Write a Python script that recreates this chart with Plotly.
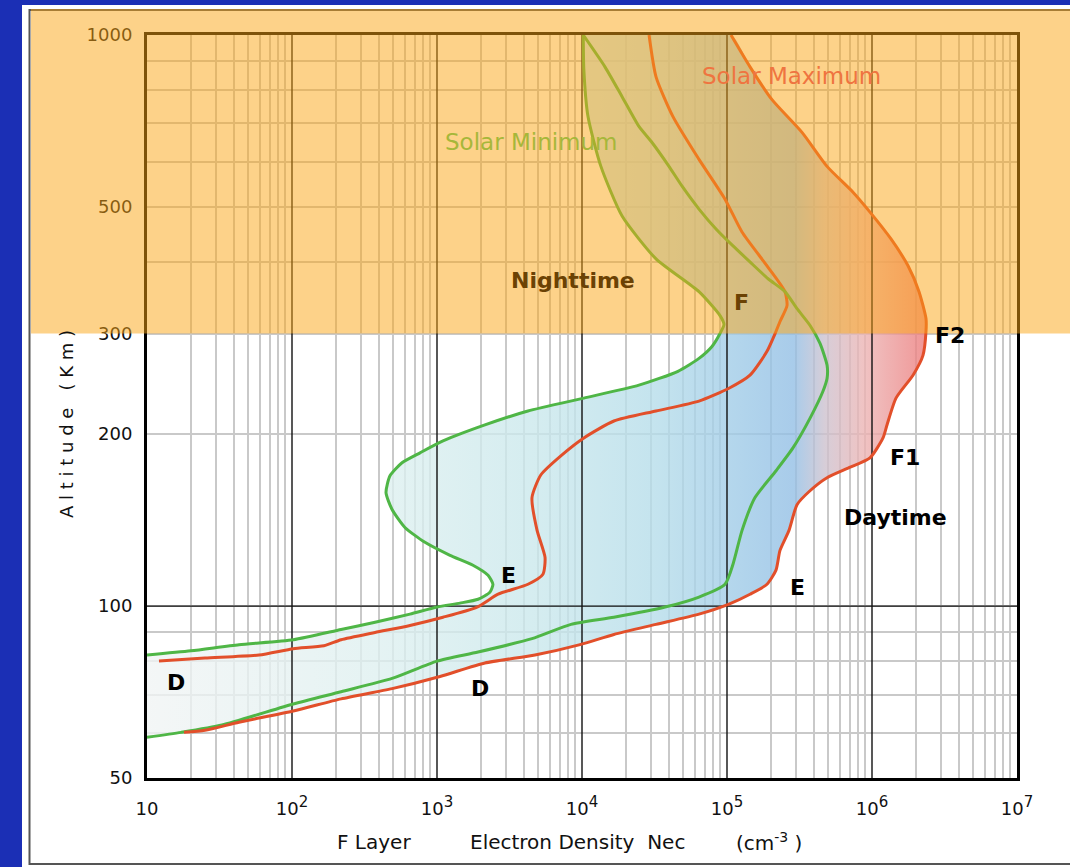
import math
import plotly.graph_objects as go

# ---- Electron density profiles (density in cm^-3, altitude in km) ----
# Nighttime, solar minimum
night_min_density = [10, 20.1, 43.1, 102, 218, 374, 651, 1000, 1440, 1920, 2320, 2430,
                     2250, 1770, 1230, 826, 601, 490, 445, 474, 574, 764, 1100, 2140,
                     4240, 10300, 24700, 45900, 64100, 78800, 89500, 95300, 89500,
                     64100, 32400, 18900, 13500, 11000, 10300, 10200]
night_min_altitude = [82.1, 83.5, 85.6, 87.3, 91.0, 93.7, 96.8, 99.6, 101.2, 102.8, 105.8, 109.2,
                      113.2, 117.9, 122.7, 129.3, 137.3, 147.6, 158.0, 169.1, 178.2, 185.5, 194.6, 207.6,
                      219.6, 231.3, 243.7, 257.7, 271.5, 284.9, 300.2, 311.2, 322.6,
                      355.3, 405.5, 481.9, 588.8, 719.6, 868.9, 1000]

# Nighttime, solar maximum
night_max_density = [12.1, 25.1, 59.2, 102, 166, 218, 374, 651, 1100, 1890, 2640, 4240,
                     5380, 5560, 4900, 4520, 5210, 7280, 10300, 16600, 32400, 64100,
                     103200, 144100, 188700, 217700, 232000, 259300, 251200, 188700,
                     126900, 96900, 64100, 42400, 32400, 29000]
night_max_altitude = [80.1, 81.1, 82.1, 84.2, 85.2, 87.3, 89.9, 92.5, 95.6, 99.6, 104.9, 109.2,
                      113.7, 121.7, 135.7, 154.9, 169.8, 184.0, 197.0, 210.9, 219.6, 228.5,
                      240.7, 253.7, 279.3, 302.6, 315.0, 335.8, 355.3, 394.3,
                      451.9, 515.9, 605.6, 719.6, 844.9, 1000]

# Daytime, solar minimum
day_min_density = [10200, 14400, 18900, 24700, 30400, 39800, 49000, 64100, 84000, 110000,
                   144000, 192000, 251000, 304000, 374000, 438000, 490000, 490000, 459000,
                   374000, 285000, 218000, 156000, 127000, 110000, 96900, 64100, 37400,
                   16600, 8400, 4520, 1920, 1000, 490, 218, 102, 32.9, 17.2, 10]
day_min_altitude = [1000, 879.5, 779.8, 691.6, 648.2, 588.8, 543.5, 495.7, 457.4, 427.2,
                    400.6, 374.3, 355.3, 331.8, 310.0, 288.4, 264.0, 250.6, 237.8,
                    213.4, 189.2, 172.6, 154.9, 135.7, 118.4, 109.2, 103.7, 99.6,
                    95.6, 92.9, 87.7, 83.1, 80.1, 74.7, 70.8, 67.4, 61.9, 60.1, 58.9]

# Daytime, solar maximum
day_max_density = [106600, 144100, 204300, 329100, 489500, 739600, 968700, 1352000, 1772000,
                   2110000, 2357000, 2357000, 2247000, 1918000, 1464000, 1269000, 1191000,
                   968700, 694000, 489500, 373700, 303900, 267700, 232000, 217700, 188700,
                   144100, 103200, 64100, 32400, 16600, 9690, 4740, 2140, 1050, 490, 218,
                   102, 43.1, 25.1, 18.0]
day_max_altitude = [1000, 879.5, 770.4, 675.2, 588.8, 530.5, 489.6, 439.4, 394.3,
                    355.3, 318.8, 302.6, 274.8, 253.7, 231.3, 207.6, 197.0,
                    181.8, 174.7, 167.8, 159.2, 150.5, 135.7, 125.2, 115.6, 109.2,
                    104.9, 100.8, 96.8, 92.9, 89.2, 85.6, 82.1, 79.5, 75.3, 71.7, 68.8,
                    65.5, 62.6, 60.6, 60.1]

# ---- Axis ticks ----
x_tick_values = [10, 1e2, 1e3, 1e4, 1e5, 1e6, 1e7]
x_tick_exponents = [None, 2, 3, 4, 5, 6, 7]
x_minor_values = [m * 10 ** e for e in range(1, 7) for m in range(2, 10)]
y_tick_values = [50, 100, 200, 300, 500, 1000]
y_tick_labels = ["50", "100", "200", "300", "500", "1000"]
y_minor_values = [60, 70, 80, 90, 400, 600, 700, 800, 900]

x_tick_labels = ["10" if e is None else
                 f"10<sup><span style='font-size:15px'>{e}</span></sup>"
                 for e in x_tick_exponents]

# ---- Page geometry (pixels) ----
W, H = 1070, 867
PL, PR, PT, PB = 147, 1017, 35, 778


def fx(px):
    return (px - PL) / (PR - PL)


def fy(py):
    return (PB - py) / (PB - PT)


GREEN = "#4fb646"
RED = "#e24f2a"
FONT = "DejaVu Sans"
SMOOTH = dict(shape="spline", smoothing=0.6)

fig = go.Figure()

# Shaded envelope between the outermost profiles
tail = [(d, a) for d, a in zip(day_min_density, day_min_altitude) if d < day_max_density[-1]]
env_x = night_min_density + day_max_density + [d for d, _ in tail]
env_y = night_min_altitude + day_max_altitude + [a for _, a in tail]
fig.add_trace(go.Scatter(
    x=env_x, y=env_y, mode="lines", fill="toself", line=dict(width=0, **SMOOTH),
    fillgradient=dict(type="horizontal", colorscale=[
        [0.00, "rgba(241,244,244,0.8)"],
        [0.30, "rgba(222,240,240,0.8)"],
        [0.50, "rgba(202,232,236,0.8)"],
        [0.65, "rgba(182,221,234,0.8)"],
        [0.77, "rgba(157,201,231,0.8)"],
        [0.83, "rgba(147,191,229,0.8)"],
        [0.87, "rgba(205,193,206,0.8)"],
        [0.92, "rgba(236,180,180,0.8)"],
        [1.00, "rgba(236,124,124,0.8)"],
    ]),
    hoverinfo="skip", showlegend=False,
))

# Decade lines and the 100 km reference line
dec_x, dec_y = [], []
for v in x_tick_values[1:-1]:
    dec_x += [v, v, None]
    dec_y += [y_tick_values[0], y_tick_values[-1], None]
dec_x += [x_tick_values[0], x_tick_values[-1]]
dec_y += [100, 100]
fig.add_trace(go.Scatter(x=dec_x, y=dec_y, mode="lines",
                         line=dict(color="#111111", width=1.4),
                         hoverinfo="skip", showlegend=False))

# Profiles
for xs, ys, col in [(night_min_density, night_min_altitude, GREEN),
                    (night_max_density, night_max_altitude, RED),
                    (day_min_density, day_min_altitude, GREEN),
                    (day_max_density, day_max_altitude, RED)]:
    fig.add_trace(go.Scatter(x=xs, y=ys, mode="lines",
                             line=dict(color=col, width=3, **SMOOTH),
                             hoverinfo="skip", showlegend=False))

# Overlay boundary at 300 km in paper units
lo = math.log10(y_tick_values[0])
hi = math.log10(y_tick_values[-1])
y300 = (math.log10(300) - lo) / (hi - lo)

shapes = [
    # white panel
    dict(type="rect", xref="paper", yref="paper", layer="below",
         x0=fx(22), x1=fx(1080), y0=fy(875), y1=fy(5),
         fillcolor="white", line=dict(width=0)),
    # panel frame
    dict(type="rect", xref="paper", yref="paper", layer="below",
         x0=fx(29.5), x1=fx(1078), y0=fy(864), y1=fy(10),
         fillcolor="rgba(0,0,0,0)", line=dict(color="#555555", width=2)),
    # translucent orange band over the upper altitudes
    dict(type="rect", xref="paper", yref="paper", layer="above",
         x0=fx(31), x1=fx(1080), y0=y300, y1=fy(9),
         fillcolor="rgba(252,165,20,0.5)", line=dict(width=0)),
]

ann = []


def label(text, px, py, size, color="#000000", bold=False, angle=0):
    ann.append(dict(
        text=f"<b>{text}</b>" if bold else text,
        x=fx(px), y=fy(py), xref="paper", yref="paper",
        xanchor="center", yanchor="middle", showarrow=False, textangle=angle,
        font=dict(family=FONT, size=size, color=color),
    ))


label("Solar Maximum", 791, 76, 23, "#ef7440")
label("Solar Minimum", 531, 142, 23, "#a6b73a")
label("Nighttime", 573, 280, 22, "#6b4204", bold=True)
label("F", 741, 302, 22, "#6b4204", bold=True)
label("F2", 950, 335, 22, bold=True)
label("F1", 905, 457, 22, bold=True)
label("Daytime", 895, 517, 22, bold=True)
label("E", 508, 575, 22, bold=True)
label("E", 797, 587, 22, bold=True)
label("D", 176, 682, 22, bold=True)
label("D", 480, 688, 22, bold=True)

# Axis titles
sp = "\u00a0"
label(sp.join("Altitude") + sp * 3 + sp.join("(Km)"), 66, 424, 18, "#111111", angle=-90)
label("F Layer", 374, 842, 20, "#111111")
label("Electron Density" + sp * 2 + "Nec", 577, 842, 20, "#111111")
label("(cm<sup>-3</sup>" + sp + ")", 769, 842, 20, "#111111")

fig.update_layout(
    width=W, height=H,
    margin=dict(l=PL, r=W - PR, t=PT, b=H - PB, pad=0),
    paper_bgcolor="#1b2fb5", plot_bgcolor="white",
    showlegend=False, shapes=shapes, annotations=ann,
    font=dict(family=FONT, color="#111111"),
)
fig.update_xaxes(
    type="log", range=[1, 7],
    tickvals=x_tick_values, ticktext=x_tick_labels, ticks="",
    tickfont=dict(size=18), ticklabelstandoff=12,
    showgrid=False, zeroline=False,
    showline=True, mirror=True, linecolor="black", linewidth=3,
    minor=dict(tickvals=x_minor_values, showgrid=True, gridcolor="#c9c9c9", gridwidth=1.5, ticks=""),
)
fig.update_yaxes(
    type="log", range=[lo, hi],
    tickvals=y_tick_values, ticktext=y_tick_labels, ticks="",
    tickfont=dict(size=18), ticklabelstandoff=8,
    showgrid=True, gridcolor="#c9c9c9", gridwidth=1.5, zeroline=False,
    showline=True, mirror=True, linecolor="black", linewidth=3,
    minor=dict(tickvals=y_minor_values, showgrid=True, gridcolor="#c9c9c9", gridwidth=1.5, ticks=""),
)

fig.write_html("out.html")
